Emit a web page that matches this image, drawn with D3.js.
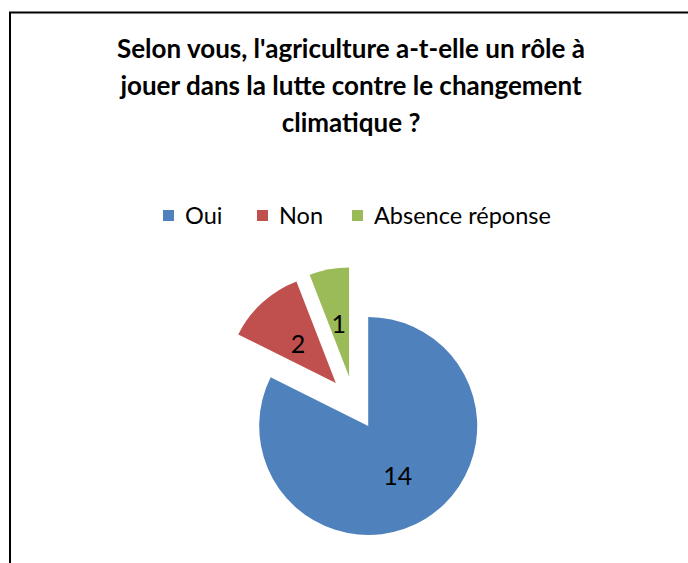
<!DOCTYPE html>
<html>
<head>
<meta charset="utf-8">
<script src="https://cdn.jsdelivr.net/npm/d3@7"></script>
<style>
  html, body { margin: 0; padding: 0; background: #fff; }
  svg { display: block; }
</style>
</head>
<body>
<svg id="chart" width="688" height="563"></svg>
<script>
// Survey answers
const categories = ["Oui", "Non", "Absence réponse"];
const counts = [14, 2, 1];
const colors = ["#4F81BD", "#C0504D", "#9BBB59"];
const titleLines = [
  "Selon vous, l'agriculture a-t-elle un rôle à",
  "jouer dans la lutte contre le changement",
  "climatique ?"
];

const W = 688, H = 563;
const svg = d3.select("#chart");
const font = "Lato, 'Open Sans', sans-serif";

// Chart frame (left and top edges visible)
svg.append("path")
  .attr("d", `M10,${H + 5} L10,12.5 L${W + 5},12.5`)
  .attr("fill", "none")
  .attr("stroke", "#000")
  .attr("stroke-width", 2);

// Title
svg.append("g").selectAll("text")
  .data(titleLines)
  .join("text")
  .attr("x", 351)
  .attr("y", (d, i) => 58 + i * 37)
  .attr("text-anchor", "middle")
  .attr("font-family", font)
  .attr("font-weight", "bold")
  .attr("font-size", 26)
  .attr("fill", "#000")
  .text(d => d);

// Legend
const legendX = [163, 257, 352];
const legend = svg.append("g").selectAll("g")
  .data(categories)
  .join("g")
  .attr("transform", (d, i) => `translate(${legendX[i]},210)`);
legend.append("rect")
  .attr("width", 11).attr("height", 11)
  .attr("fill", (d, i) => colors[i]);
legend.append("text")
  .attr("x", 22).attr("y", 14)
  .attr("font-family", font)
  .attr("font-size", 23.5)
  .attr("fill", "#000")
  .text(d => d);

// Pie with every slice pulled out from the centre
const cx = 354, cy = 403, r = 109, explode = 27, labelR = 56;
const pie = d3.pie().sort(null).value(d => d)(counts);
const arc = d3.arc().innerRadius(0).outerRadius(r);
const mid = d => (d.startAngle + d.endAngle) / 2;

const slices = svg.append("g")
  .attr("transform", `translate(${cx},${cy})`)
  .selectAll("g")
  .data(pie)
  .join("g")
  .attr("transform", d => `translate(${explode * Math.sin(mid(d))},${-explode * Math.cos(mid(d))})`);

slices.append("path")
  .attr("d", arc)
  .attr("fill", (d, i) => colors[i]);

slices.append("text")
  .attr("x", d => labelR * Math.sin(mid(d)))
  .attr("y", d => -labelR * Math.cos(mid(d)))
  .attr("dy", "0.45em")
  .attr("text-anchor", "middle")
  .attr("font-family", font)
  .attr("font-size", 25)
  .attr("fill", "#000")
  .text(d => d.data);
</script>
</body>
</html>
